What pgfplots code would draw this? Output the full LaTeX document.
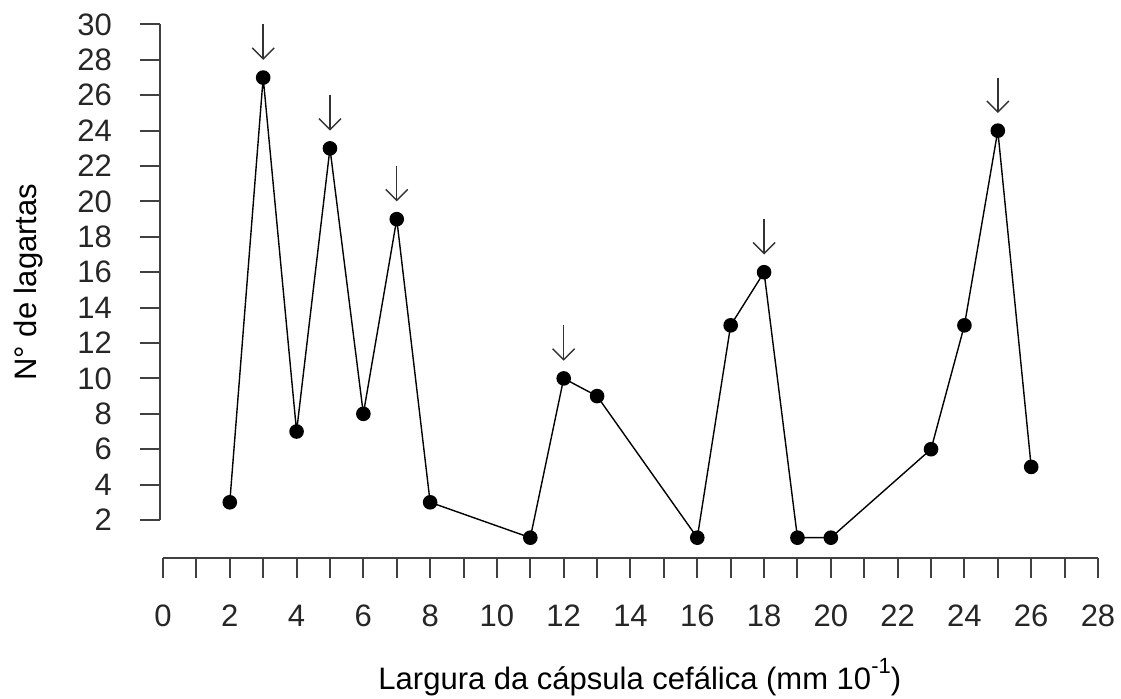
\documentclass[border=0pt]{standalone}
\usepackage{fontspec}
\setmainfont{Liberation Sans}
\usepackage{pgfplots}
\pgfplotsset{compat=1.18}
\usetikzlibrary{arrows.meta}
\begin{document}
\begin{tikzpicture}
\begin{axis}[
  scale only axis, width=467.5pt, height=247.75pt,
  xmin=0, xmax=28, ymin=2, ymax=30,
  enlargelimits=false, clip=false,
  axis x line*=bottom, axis y line*=left,
  axis x line shift=19pt, axis y line shift=1.5pt,
  axis line style={black!75, line width=1pt},
  every tick/.style={black!75, line width=1pt},
  tick align=outside,
  major tick length=10pt, minor tick length=10pt,
  xtick={0,2,...,28}, minor xtick={1,3,...,27},
  ytick={2,4,...,30},
  xticklabel shift=10pt, yticklabel shift=5.5pt,
  yticklabel style={xshift=-5pt},
  /pgf/number format/assume math mode=true,
  tick label style={font=\fontsize{15.5}{17}\selectfont, text=black!85},
  label style={font=\fontsize{15.5}{18}\selectfont},
  xlabel={Largura da cápsula cefálica (mm 10\raisebox{8pt}{\fontsize{11}{12}\selectfont -1})},
  ylabel={N° de lagartas},
  xlabel style={at={(axis description cs:0.51,-0.3431)}, anchor=base},
  ylabel style={at={(axis description cs:-0.1358,0.48)}, anchor=base},
]
\addplot[black, line width=0.7pt, mark=*, mark size=3.3pt, mark options={fill=black}] coordinates {
(2,3) (3,27) (4,7) (5,23) (6,8) (7,19) (8,3) (11,1) (12,10) (13,9)
(16,1) (17,13) (18,16) (19,1) (20,1) (23,6) (24,13) (25,24) (26,5)};
\addplot[black!80, line width=0.7pt, -{Straight Barb[length=5.5pt,width=11pt]},
  quiver={u=0, v=\thisrow{v}}] table {
x y v
3 30 -2
5 26 -2
7 22 -2
12 13 -2
18 19 -2
25 27 -2
};
\end{axis}
\pgfresetboundingbox
\path (-81.5pt,-89.5pt) rectangle (479pt,260pt);
\end{tikzpicture}
\end{document}
